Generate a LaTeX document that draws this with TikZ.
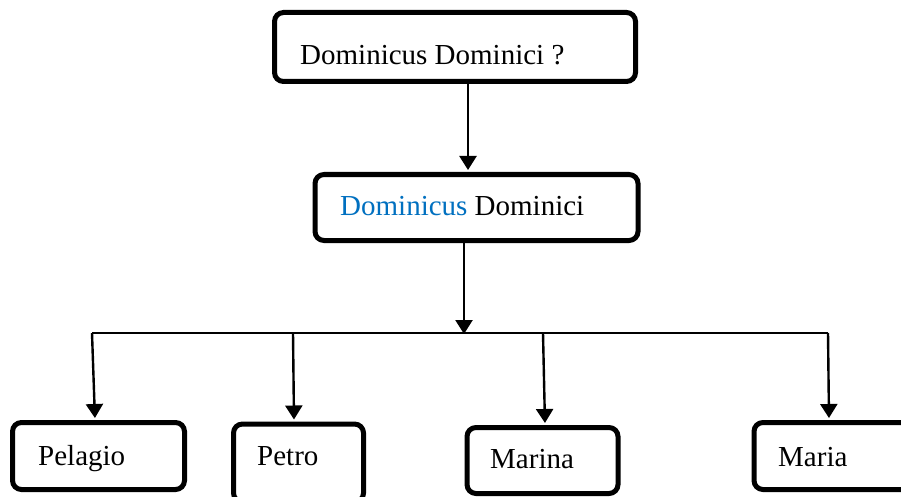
\documentclass[tikz,border=0pt]{standalone}
\usepackage{fontspec}
\setmainfont{Liberation Serif}
\usetikzlibrary{arrows.meta}
\definecolor{wordblue}{HTML}{0070C0}
\begin{document}
\begin{tikzpicture}[x=1pt,y=-1pt,
  box/.style={draw=black, line width=5pt, rounded corners=9pt, fill=white, inner sep=0pt},
  lbl/.style={anchor=base west, inner sep=0pt, font=\fontsize{29}{34}\selectfont},
  arr/.style={line width=2.4pt, -{Triangle[width=17pt,length=14pt]}},
  bus/.style={line width=2.4pt}]
\useasboundingbox (0,0) rectangle (901,497);
\clip (0,0) rectangle (901,497);
% boxes
\node[box, minimum width=361pt, minimum height=69pt] (top) at (455,47) {};
\node[box, minimum width=323pt, minimum height=66pt] (mid) at (476.5,207.5) {};
\node[box, minimum width=172pt, minimum height=67pt] (pel) at (98.5,456) {};
\node[box, minimum width=130pt, minimum height=78pt] (pet) at (298.5,463) {};
\node[box, minimum width=151pt, minimum height=66pt] (mar) at (542.5,460.5) {};
\node[box, minimum width=172pt, minimum height=67pt] (mra) at (840,456) {};
% texts
\node[lbl] (ttop) at (300,65) {Dominicus Dominici ?};
\node[lbl] (tmid) at (340,215) {\textcolor{wordblue}{Dominicus} Dominici};
\node[lbl] (tpel) at (38,465) {Pelagio};
\node[lbl] (tpet) at (257,465) {Petro};
\node[lbl] (tmar) at (490,468) {Marina};
\node[lbl] (tmra) at (778,466) {Maria};
% connector coordinates
\coordinate (a1) at (468,0);
\coordinate (a2) at (464,0);
\coordinate (busy) at (0,333);
\coordinate (b1) at (92,333);
\coordinate (b2) at (293,333);
\coordinate (b3) at (543,333);
\coordinate (b4) at (828,333);
\coordinate (e1) at (95,0);
\coordinate (e2) at (294,0);
\coordinate (e3) at (545,0);
\coordinate (e4) at (829,0);
% connectors
\draw[arr, shorten >=2pt] (top.south -| a1) -- (mid.north -| a1);
\draw[arr, shorten >=-1pt] (mid.south -| a2) -- (busy -| a2);
\draw[bus] (b1) -- (b4);
\draw[arr, shorten >=2pt] (b1) -- (pel.north -| e1);
\draw[arr, shorten >=2pt] (b2) -- (pet.north -| e2);
\draw[arr, shorten >=2pt] (b3) -- (mar.north -| e3);
\draw[arr, shorten >=2pt] (b4) -- (mra.north -| e4);
\end{tikzpicture}
\end{document}
